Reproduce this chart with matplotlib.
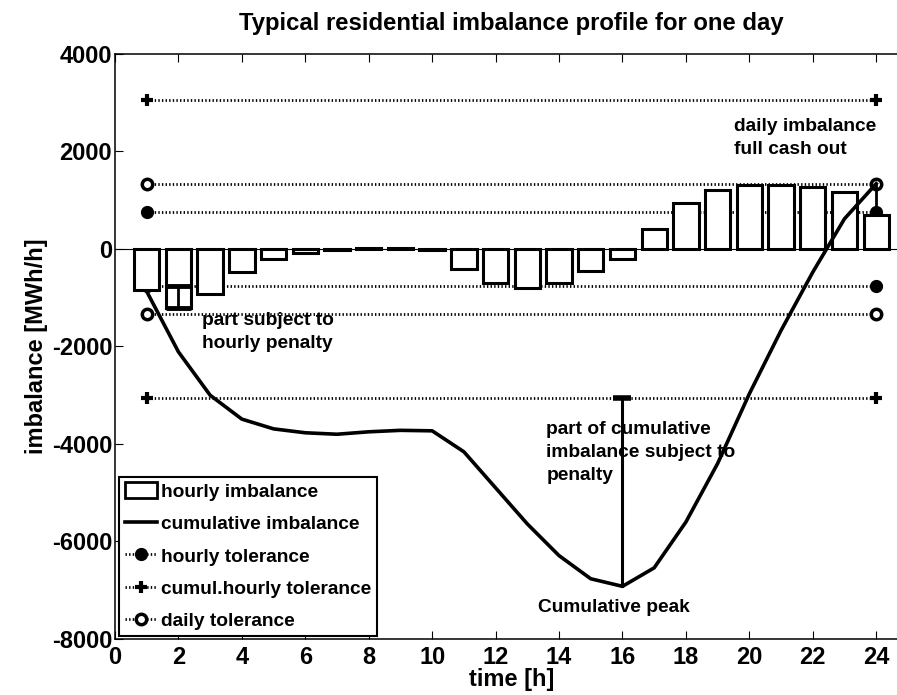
import numpy as np
import matplotlib
matplotlib.use("Agg")
import matplotlib.pyplot as plt
from matplotlib.patches import Rectangle
from matplotlib.lines import Line2D

# --- 資料 ---
hours = np.arange(1, 25)
hourly_imbalance = [-850, -1220, -930, -480, -215, -80, -30, 30, 20, -30, -420, -690,
                    -790, -690, -460, -200, 410, 940, 1210, 1320, 1320, 1280, 1165, 690]
cumulative_imbalance = [-870, -2110, -3000, -3490, -3690, -3770, -3800, -3750, -3720, -3730,
                        -4160, -4900, -5640, -6290, -6765, -6920, -6540, -5600, -4400, -2970,
                        -1670, -475, 620, 1340]
hourly_tol = 760
cumul_tol = 3050
daily_tol = 1340
tol_hours = [1, 24]
x_ticks = list(range(0, 25, 2))
y_ticks = list(range(-8000, 4001, 2000))

plt.rcParams['font.family'] = ['Liberation Sans', 'DejaVu Sans']
plt.rcParams['font.weight'] = 'bold'
plt.rcParams['axes.unicode_minus'] = False

fig = plt.figure(figsize=(8.97, 6.95), dpi=100)
ax = fig.add_axes([0.1282, 0.0806, 0.884, 0.8417])

dot_style = (0, (0.5, 0.8))

# --- 容許線 ---
for sign in (1, -1):
    ax.plot(tol_hours, [sign * cumul_tol] * 2, color='black', lw=2, ls=dot_style,
            dash_capstyle='butt', marker='+', ms=9, mew=3)
    ax.plot(tol_hours, [sign * daily_tol] * 2, color='black', lw=2, ls=dot_style,
            dash_capstyle='butt', marker='o', ms=7.5, mew=2.5, mfc='white')
    ax.plot(tol_hours, [sign * hourly_tol] * 2, color='black', lw=2, ls=dot_style,
            dash_capstyle='butt', marker='o', ms=8.5, mfc='black')

# --- 長條圖 ---
ax.axhline(0, color='black', lw=0.8, zorder=1)
ax.bar(hours, hourly_imbalance, width=0.8, color='white', edgecolor='black',
       linewidth=2.2, zorder=2)

# --- 累積曲線 ---
ax.plot(hours, cumulative_imbalance, color='black', lw=2.6, zorder=4)

# --- 標註 ---
half = (-hourly_tol - hourly_imbalance[1]) / 2
ax.errorbar([2], [(-hourly_tol + hourly_imbalance[1]) / 2], yerr=[[half], [half]],
            color='black', lw=2, capsize=9, capthick=3.5, zorder=5)
ax.plot([16, 16], [-cumul_tol, cumulative_imbalance[15]], color='black', lw=2.2, zorder=5)
ax.plot([16], [-cumul_tol], marker='_', ms=13, mew=4, color='black', zorder=5)
ax.plot([24, 24], [cumulative_imbalance[23], hourly_tol], color='black', lw=2, zorder=5)

txt = dict(fontsize=13.8, fontweight='bold', linespacing=1.45, zorder=6)
ax.text(2.73, -1300, 'part subject to\nhourly penalty', va='top', ha='left', **txt)
ax.text(13.6, -3530, 'part of cumulative\nimbalance subject to\npenalty', va='top', ha='left', **txt)
ax.text(15.74, -7350, 'Cumulative peak', va='center', ha='center', **txt)
ax.text(19.53, 2690, 'daily imbalance\nfull cash out', va='top', ha='left', **txt)

# --- 座標軸 ---
ax.set_xlim(0, 25)
ax.set_ylim(-8000, 4000)
ax.set_xticks(x_ticks)
ax.set_yticks(y_ticks)
ax.tick_params(direction='in', length=6, width=0.8, top=True, right=True, labelsize=17)
ax.tick_params(axis='x', pad=5)
ax.tick_params(axis='y', pad=2)
for lab in ax.get_xticklabels() + ax.get_yticklabels():
    lab.set_fontweight('bold')
for sp in ax.spines.values():
    sp.set_linewidth(1.1)
ax.set_title('Typical residential imbalance profile for one day', fontsize=17.2,
             fontweight='bold', pad=17)
ax.set_xlabel('time [h]', fontsize=17, fontweight='bold', labelpad=-1)
ax.set_ylabel('imbalance [MWh/h]', fontsize=17, fontweight='bold', labelpad=3)

# --- 圖例 ---
handles = [
    Rectangle((0, 0), 1, 1, facecolor='white', edgecolor='black', linewidth=2),
    Line2D([], [], color='black', lw=2.6),
    Line2D([], [], color='black', lw=2, ls=dot_style, marker='o', ms=8.5, mfc='black'),
    Line2D([], [], color='black', lw=2, ls=dot_style, marker='+', ms=9, mew=3),
    Line2D([], [], color='black', lw=2, ls=dot_style, marker='o', ms=7.5, mew=2.5, mfc='white'),
]
labels = ['hourly imbalance', 'cumulative imbalance', 'hourly tolerance',
          'cumul.hourly tolerance', 'daily tolerance']
leg = ax.legend(handles, labels, loc='lower left', bbox_to_anchor=(0.005, 0.005),
                prop={'size': 13.8, 'weight': 'bold'}, numpoints=1,
                handlelength=1.7, handleheight=0.9, handletextpad=0.2, labelspacing=0.72,
                borderpad=0.3, borderaxespad=0.0, fancybox=False, framealpha=1)
leg.get_frame().set_edgecolor('black')
leg.get_frame().set_linewidth(1.5)

fig.savefig('out.png', dpi=100)
